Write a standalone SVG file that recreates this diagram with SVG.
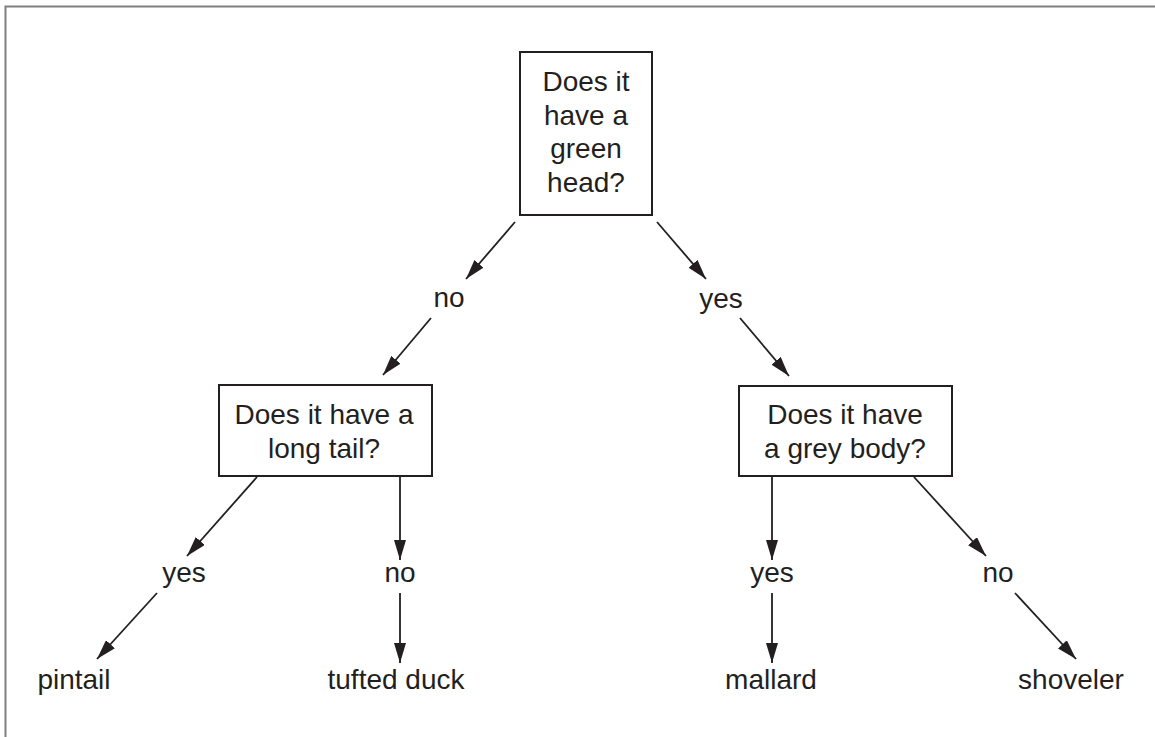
<svg xmlns="http://www.w3.org/2000/svg" width="1155" height="737" viewBox="0 0 1155 737">
<defs>
<style>
.t{font-family:"Liberation Sans",Arial,Helvetica,sans-serif;font-size:28px;fill:#231f20;text-anchor:middle}
.box{fill:#fff;stroke:#231f20;stroke-width:2}
.c{stroke:#231f20;stroke-width:1.8;fill:none;marker-end:url(#ah)}
</style>
<marker id="ah" markerUnits="userSpaceOnUse" markerWidth="20" markerHeight="12" refX="20" refY="6" orient="auto" viewBox="0 0 20 12">
<path d="M0,0 L20,6 L0,12 z" fill="#231f20"/>
</marker>
</defs>
<rect width="1155" height="737" fill="#fff"/>
<path d="M5.5,737 V6.5 H1155" fill="none" stroke="#808080" stroke-width="2"/>
<g id="connectors">
<line class="c" x1="515" y1="222" x2="466" y2="279"/>
<line class="c" x1="431" y1="318" x2="383" y2="375"/>
<line class="c" x1="657" y1="222" x2="706" y2="279"/>
<line class="c" x1="740" y1="318" x2="789" y2="376"/>
<line class="c" x1="257" y1="477" x2="187" y2="556"/>
<line class="c" x1="157" y1="593" x2="97" y2="659"/>
<line class="c" x1="400" y1="477" x2="400" y2="560"/>
<line class="c" x1="400" y1="593" x2="400" y2="663"/>
<line class="c" x1="772" y1="477" x2="772" y2="560"/>
<line class="c" x1="772" y1="593" x2="772" y2="663"/>
<line class="c" x1="914" y1="477" x2="986" y2="556"/>
<line class="c" x1="1015" y1="593" x2="1076" y2="659"/>
</g>
<g id="q1">
<rect class="box" x="520" y="52" width="132" height="163"/>
<text class="t" x="586" y="91">Does it</text>
<text class="t" x="586" y="125">have a</text>
<text class="t" x="586" y="158">green</text>
<text class="t" x="586" y="192">head?</text>
</g>
<g id="lbl-no1"><text class="t" x="449" y="307">no</text></g>
<g id="lbl-yes1"><text class="t" x="721" y="308">yes</text></g>
<g id="q2">
<rect class="box" x="219" y="385" width="213" height="91"/>
<text class="t" x="324" y="424">Does it have a</text>
<text class="t" x="324" y="458">long tail?</text>
</g>
<g id="q3">
<rect class="box" x="739" y="386" width="213" height="90"/>
<text class="t" x="845" y="424">Does it have</text>
<text class="t" x="845" y="458">a grey body?</text>
</g>
<g id="lbl-yes2"><text class="t" x="184" y="582">yes</text></g>
<g id="lbl-no2"><text class="t" x="400" y="582">no</text></g>
<g id="lbl-yes3"><text class="t" x="772" y="582">yes</text></g>
<g id="lbl-no3"><text class="t" x="998" y="582">no</text></g>
<g id="pintail"><text class="t" x="74" y="689">pintail</text></g>
<g id="tufted"><text class="t" x="396" y="689">tufted duck</text></g>
<g id="mallard"><text class="t" x="771" y="689">mallard</text></g>
<g id="shoveler"><text class="t" x="1071" y="689">shoveler</text></g>
</svg>
